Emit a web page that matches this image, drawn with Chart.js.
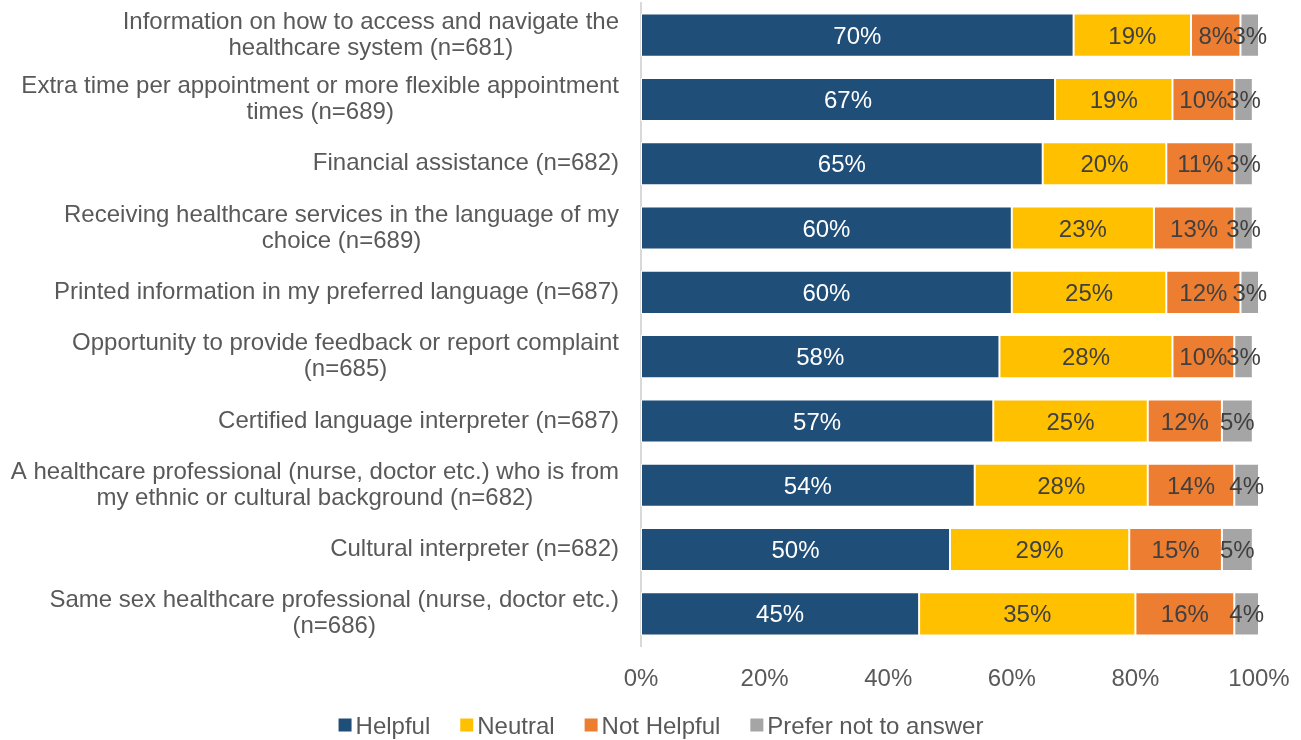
<!DOCTYPE html>
<html>
<head>
<meta charset="utf-8">
<script src="https://cdn.jsdelivr.net/npm/chart.js@4"></script>
<style>
  html, body { margin:0; padding:0; background:#fff; overflow:hidden; }
  #wrap { width:1301px; height:740px; position:relative; }
</style>
</head>
<body>
<div id="wrap"><canvas id="supportChart"></canvas></div>
<script>
// --- categories and series ---
const categories = [
    ['Information on how to access and navigate the', 'healthcare system (n=681)'],
    ['Extra time per appointment or more flexible appointment', 'times (n=689)'],
    ['Financial assistance (n=682)'],
    ['Receiving healthcare services in the language of my', 'choice (n=689)'],
    ['Printed information in my preferred language (n=687)'],
    ['Opportunity to provide feedback or report complaint', '(n=685)'],
    ['Certified language interpreter (n=687)'],
    ['A healthcare professional (nurse, doctor etc.) who is from', 'my ethnic or cultural background (n=682)'],
    ['Cultural interpreter (n=682)'],
    ['Same sex healthcare professional (nurse, doctor etc.)', '(n=686)']
];
const helpful    = [70, 67, 65, 60, 60, 58, 57, 54, 50, 45];
const neutral    = [19, 19, 20, 23, 25, 28, 25, 28, 29, 35];
const notHelpful = [8, 10, 11, 13, 12, 10, 12, 14, 15, 16];
const preferNot  = [3, 3, 3, 3, 3, 3, 5, 4, 5, 4];
const xTicks = [0, 20, 40, 60, 80, 100];

const FONT = "'Liberation Sans', Arial, sans-serif";
const TEXT = '#595959';
const SIZE = 24;

// draws the value of each segment in its middle
const segmentLabels = {
    id: 'segmentLabels',
    afterDatasetsDraw(chart) {
        const ctx = chart.ctx;
        ctx.save();
        ctx.font = `${SIZE}px ${FONT}`;
        ctx.textAlign = 'center';
        ctx.textBaseline = 'middle';
        chart.data.datasets.forEach((ds, di) => {
            chart.getDatasetMeta(di).data.forEach((bar, i) => {
                const x = (bar.x + bar.base) / 2;
                ctx.fillStyle = di === 0 ? '#ffffff' : '#404040';
                ctx.fillText(ds.data[i] + '%', x, bar.y + 2);
            });
        });
        ctx.restore();
    }
};

// category names: block right-aligned to the axis, lines centred inside the block
const categoryLabels = {
    id: 'categoryLabels',
    afterDraw(chart) {
        const ctx = chart.ctx;
        const yScale = chart.scales.y;
        const right = chart.chartArea.left - 22;
        const lineH = 26;
        ctx.save();
        ctx.font = `${SIZE}px ${FONT}`;
        ctx.fillStyle = TEXT;
        ctx.textAlign = 'center';
        ctx.textBaseline = 'middle';
        categories.forEach((lines, i) => {
            const cy = yScale.getPixelForValue(i);
            const w = Math.max(...lines.map(l => ctx.measureText(l).width));
            const cx = right - w / 2;
            const y0 = cy - (lines.length - 1) * lineH / 2;
            lines.forEach((l, k) => ctx.fillText(l, cx, y0 + k * lineH));
        });
        ctx.restore();
    }
};

// compact legend row under the axis (square swatch, small gap, label)
const bottomLegend = {
    id: 'bottomLegend',
    afterDraw(chart) {
        const ctx = chart.ctx;
        const box = 13, gap = 4, itemGap = 30;
        const y = 725;
        ctx.save();
        ctx.font = `${SIZE}px ${FONT}`;
        ctx.textBaseline = 'middle';
        ctx.textAlign = 'left';
        const items = chart.data.datasets.map(ds => ({
            label: ds.label, color: ds.backgroundColor, w: ctx.measureText(ds.label).width
        }));
        const total = items.reduce((s, it) => s + box + gap + it.w, 0) + itemGap * (items.length - 1);
        let x = 661 - total / 2;
        items.forEach(it => {
            ctx.fillStyle = it.color;
            ctx.fillRect(x, y - box / 2, box, box);
            ctx.fillStyle = TEXT;
            ctx.fillText(it.label, x + box + gap, y + 2);
            x += box + gap + it.w + itemGap;
        });
        ctx.restore();
    }
};

function makeSet(label, data, color) {
    return {
        label: label,
        data: data,
        backgroundColor: color,
        borderColor: '#ffffff',
        borderWidth: 1,
        borderSkipped: false,
        barPercentage: 0.67,
        categoryPercentage: 1.0
    };
}

new Chart(document.getElementById('supportChart'), {
    type: 'bar',
    data: {
        labels: categories,
        datasets: [
            makeSet('Helpful', helpful, '#1F4E79'),
            makeSet('Neutral', neutral, '#FFC000'),
            makeSet('Not Helpful', notHelpful, '#ED7D31'),
            makeSet('Prefer not to answer', preferNot, '#A5A5A5')
        ]
    },
    options: {
        indexAxis: 'y',
        responsive: true,
        maintainAspectRatio: false,
        animation: false,
        layout: { padding: { top: 3, right: 42, bottom: 40, left: 0 } },
        plugins: {
            legend: { display: false },
            tooltip: { enabled: false }
        },
        scales: {
            x: {
                stacked: true,
                min: 0,
                max: 100,
                afterBuildTicks: s => { s.ticks = xTicks.map(v => ({ value: v })); },
                // grid hidden; tickLength only pushes the labels down
                grid: { display: false, drawTicks: true, tickLength: 16 },
                border: { display: false },
                ticks: {
                    font: { family: FONT, size: SIZE },
                    color: TEXT,
                    padding: 3,
                    maxRotation: 0,
                    callback: v => v + '%'
                },
                afterFit: s => { s.height = 54; }
            },
            y: {
                stacked: true,
                grid: { display: false, drawTicks: false },
                border: { display: true, color: '#D9D9D9', width: 2 },
                ticks: { display: false },
                afterFit: s => { s.width = 641; }
            }
        }
    },
    plugins: [segmentLabels, categoryLabels, bottomLegend]
});
</script>
</body>
</html>
